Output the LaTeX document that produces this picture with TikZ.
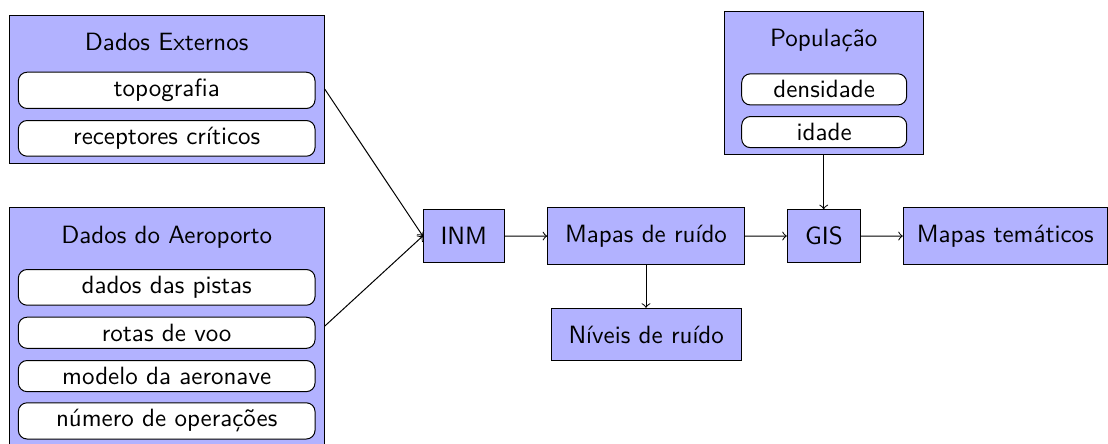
\documentclass[tikz,border=0pt]{standalone}
\usepackage{fontspec}
\newcommand{\pxlen}{0.4pt}
\tikzset{
  box/.style={draw, fill=blue!30, inner sep=0pt, font=\sffamily},
  item/.style={draw, fill=white, rounded corners=3.5pt, inner xsep=0pt, inner ysep=2.7pt, anchor=north, font=\sffamily},
  grouptitle/.style={anchor=base, font=\sffamily, inner sep=0pt},
  conn/.style={->}
}
\begin{document}
\begin{tikzpicture}[x=0.4pt, y=-0.4pt]
\useasboundingbox (0,0) rectangle (1108,443);
% Dados Externos
\node[box, minimum width=315.3*\pxlen, minimum height=148.3*\pxlen] (ext) at (166.7,89.2) {};
\node[grouptitle] (extt) at (166.7,50) {Dados Externos};
\node[item, minimum width=296.7*\pxlen] (topo) at (166.7,71.7) {topografia};
\node[item, minimum width=296.7*\pxlen] (rec) at (166.7,120) {receptores críticos};
% Dados do Aeroporto
\node[box, minimum width=315.3*\pxlen, minimum height=237.4*\pxlen] (aero) at (166.7,326) {};
\node[grouptitle] (aerot) at (166.7,243.3) {Dados do Aeroporto};
\node[item, minimum width=296.7*\pxlen] (pistas) at (166.7,269) {dados das pistas};
\node[item, minimum width=296.7*\pxlen] (rotas) at (166.7,316.7) {rotas de voo};
\node[item, minimum width=296.7*\pxlen] (modelo) at (166.7,360) {modelo da aeronave};
\node[item, minimum width=296.7*\pxlen] (numero) at (166.7,402.3) {número de operações};
% População
\node[box, minimum width=199.3*\pxlen, minimum height=143.3*\pxlen] (pop) at (823.7,83.3) {};
\node[grouptitle] (popt) at (823.7,46.7) {População};
\node[item, minimum width=165*\pxlen] (dens) at (824.2,73.3) {densidade};
\node[item, minimum width=165*\pxlen] (idade) at (824.2,116) {idade};
% chain
\node[box, minimum width=81*\pxlen, minimum height=52.6*\pxlen] (inm) at (463.8,236) {INM};
\node[box, minimum width=196.6*\pxlen, minimum height=57.7*\pxlen] (mapas) at (646,236.1) {Mapas de ruído};
\node[box, minimum width=190.3*\pxlen, minimum height=52.4*\pxlen] (niveis) at (646.2,334.5) {Níveis de ruído};
\node[box, minimum width=73.4*\pxlen, minimum height=52.6*\pxlen] (gis) at (824,236) {GIS};
\node[box, minimum width=204*\pxlen, minimum height=57.7*\pxlen] (tema) at (1005.3,236.1) {Mapas temáticos};
% connectors
\draw[conn] (ext.east) -- (inm.west);
\draw[conn] (aero.east) -- (inm.west);
\draw[conn] (inm) -- (mapas);
\draw[conn] (mapas) -- (gis);
\draw[conn] (gis) -- (tema);
\draw[conn] (mapas.south) -- (mapas.south |- niveis.north);
\draw[conn] (pop.south) -- (pop.south |- gis.north);
\end{tikzpicture}
\end{document}
